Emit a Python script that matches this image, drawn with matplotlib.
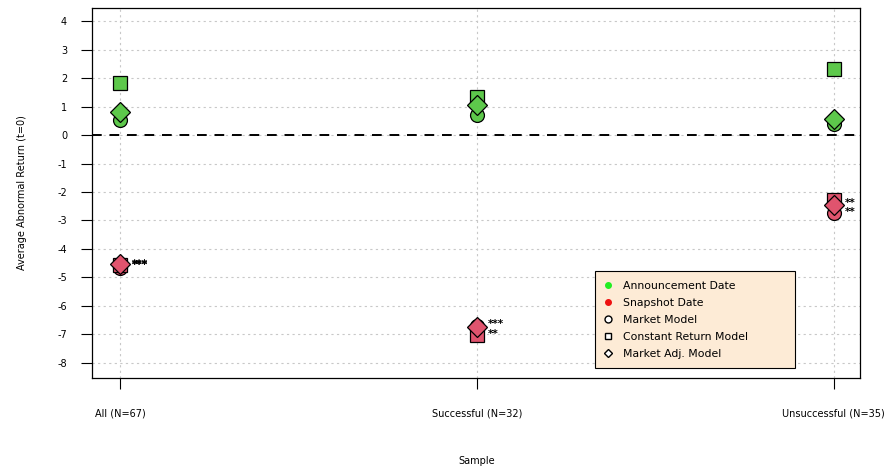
import numpy as np
import matplotlib
matplotlib.use("Agg")
import matplotlib.pyplot as plt
from matplotlib.lines import Line2D

# data
samples = ["All (N=67)", "Successful (N=32)", "Unsuccessful (N=35)"]
ann_market = [0.52, 0.70, 0.38]
ann_const = [1.83, 1.32, 2.32]
ann_adj = [0.81, 1.07, 0.57]
snap_market = [-4.67, -6.70, -2.74]
snap_const = [-4.55, -7.02, -2.27]
snap_adj = [-4.52, -6.74, -2.45]

# significance stars next to snapshot-date points
star_x = [1, 1, 1, 2, 2, 3, 3]
star_y = [-4.52, -4.55, -4.58, -6.65, -7.00, -2.40, -2.72]
star_txt = ["***", "***", "***", "***", "**", "**", "**"]

GREEN = "#5DC84B"
RED = "#E0546E"

plt.rcParams["font.family"] = "DejaVu Sans"
plt.rcParams["font.size"] = 7
plt.rcParams["axes.unicode_minus"] = False

fig = plt.figure(figsize=(8.91, 4.67), dpi=100)
ax = fig.add_axes([0.1033, 0.1906, 0.8617, 0.7923])

x = np.arange(1, len(samples) + 1)
for vals_a, vals_s, mk, size in [(ann_market, snap_market, "o", 10),
                                 (ann_const, snap_const, "s", 9.5),
                                 (ann_adj, snap_adj, "D", 10)]:
    ax.plot(x, vals_a, ls="none", marker=mk, ms=size, mfc=GREEN, mec="black", mew=0.9, zorder=3)
    ax.plot(x, vals_s, ls="none", marker=mk, ms=size, mfc=RED, mec="black", mew=0.9, zorder=3)

for sx, sy, t in zip(star_x, star_y, star_txt):
    ax.annotate(t, (sx, sy), xytext=(8, 0), textcoords="offset points",
                va="center", ha="left", fontsize=7.5, fontweight="bold")

ax.axhline(0, color="black", ls=(0, (5, 4)), lw=1.4, zorder=2)

ax.set_xlim(0.921, 3.073)
ax.set_ylim(-8.53, 4.46)
ax.set_yticks(np.arange(-8, 5))
ax.set_xticks(x)
ax.set_xticklabels(samples)
ax.grid(True, color="#c8c8c8", ls=(0, (2, 3)), lw=0.8)
ax.set_axisbelow(True)
ax.tick_params(axis="y", direction="out", length=8, width=0.8, pad=10)
ax.tick_params(axis="x", direction="out", length=8, width=0.8, pad=14)
for sp in ax.spines.values():
    sp.set_linewidth(0.9)

ax.set_ylabel("Average Abnormal Return (t=0)", labelpad=22)
fig.text(0.5355, 1 - 461 / 467, "Sample", ha="center", va="center", fontsize=7)

handles = [
    Line2D([], [], ls="none", marker="o", ms=4, mfc="#22ee22", mec="#22ee22"),
    Line2D([], [], ls="none", marker="o", ms=4, mfc="#ee1111", mec="#ee1111"),
    Line2D([], [], ls="none", marker="o", ms=5, mfc="white", mec="black"),
    Line2D([], [], ls="none", marker="s", ms=5, mfc="white", mec="black"),
    Line2D([], [], ls="none", marker="D", ms=4.5, mfc="white", mec="black"),
]
labels = ["Announcement Date", "Snapshot Date", "Market Model",
          "Constant Return Model", "Market Adj. Model"]
leg = ax.legend(handles, labels, loc="lower left", mode="expand",
                bbox_to_anchor=(0.655, 0.027, 0.260, 0.2),
                frameon=True, fancybox=False, edgecolor="black", facecolor="#FDEBD6",
                framealpha=1, fontsize=7.8, borderpad=0.85, labelspacing=0.65,
                handlelength=0.65, handletextpad=1.1, borderaxespad=0)
leg.get_frame().set_linewidth(0.8)

fig.savefig("out.png", dpi=100)
